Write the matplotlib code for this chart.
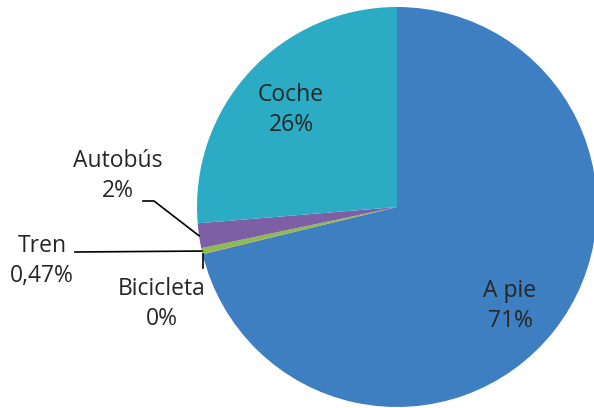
import numpy as np
import matplotlib.pyplot as plt

labels = ["A pie", "Bicicleta", "Tren", "Autobús", "Coche"]
values = [71.2, 0.03, 0.47, 2.0, 26.3]
pct_text = ["71%", "0%", "0,47%", "2%", "26%"]
colors = ["#3D7FC1", "#C0504D", "#8DBB50", "#7D5FA5", "#2BABC4"]

plt.rcParams['font.family'] = ['Open Sans', 'DejaVu Sans']
txt_color = "#262626"

fig = plt.figure(figsize=(5.94, 4.08), dpi=100)
# pie centre ~ (397, 207) px, radius ~200 px
ax = fig.add_axes([197 / 594, 1 / 408, 400 / 594, 400 / 408])
wedges, _ = ax.pie(values, colors=colors, startangle=90, counterclock=False,
                   radius=1.0, wedgeprops=dict(linewidth=0))
ax.set_xlim(-1, 1)
ax.set_ylim(-1, 1)
ax.set_aspect('equal')
ax.axis('off')


def px(x, y):
    # pixel position -> data coords of the pie axes
    return (x - 397) / 200.0, (207 - y) / 200.0


def edge(w, r=1.0):
    a = np.deg2rad((w.theta1 + w.theta2) / 2)
    return r * np.cos(a), r * np.sin(a)


fs = 16.5
ls = 1.3
# labels inside
for i, pos in [(0, (510, 306)), (4, (291, 110))]:
    x, y = px(*pos)
    ax.text(x, y, labels[i] + "\n" + pct_text[i], ha='center', va='center',
            fontsize=fs, color=txt_color, linespacing=ls, clip_on=False)

# Autobús
x, y = px(118, 176)
ax.text(x, y, labels[3] + "\n" + pct_text[3], ha='center', va='center',
        fontsize=fs, color=txt_color, linespacing=ls, clip_on=False)
ex, ey = edge(wedges[3])
p1 = px(143, 201)
p2 = px(154, 201)
ax.plot([p1[0], p2[0], ex], [p1[1], p2[1], ey], color='black', lw=1.2,
        clip_on=False)

# Tren
x, y = px(42, 261)
ax.text(x, y, labels[2] + "\n" + pct_text[2], ha='center', va='center',
        fontsize=fs, color=txt_color, linespacing=ls, clip_on=False)
ex, ey = edge(wedges[2])
p1 = px(75, 252)
ax.plot([p1[0], ex], [p1[1], ey], color='black', lw=1.2, clip_on=False)

# Bicicleta
x, y = px(162, 304)
ax.text(x, y, labels[1] + "\n" + pct_text[1], ha='center', va='center',
        fontsize=fs, color=txt_color, linespacing=ls, clip_on=False)
ex, ey = edge(wedges[1])
p1 = px(203, 268)
ax.plot([ex, ex], [ey, p1[1]], color='black', lw=1.2, clip_on=False)

fig.savefig("out.png", dpi=100)
